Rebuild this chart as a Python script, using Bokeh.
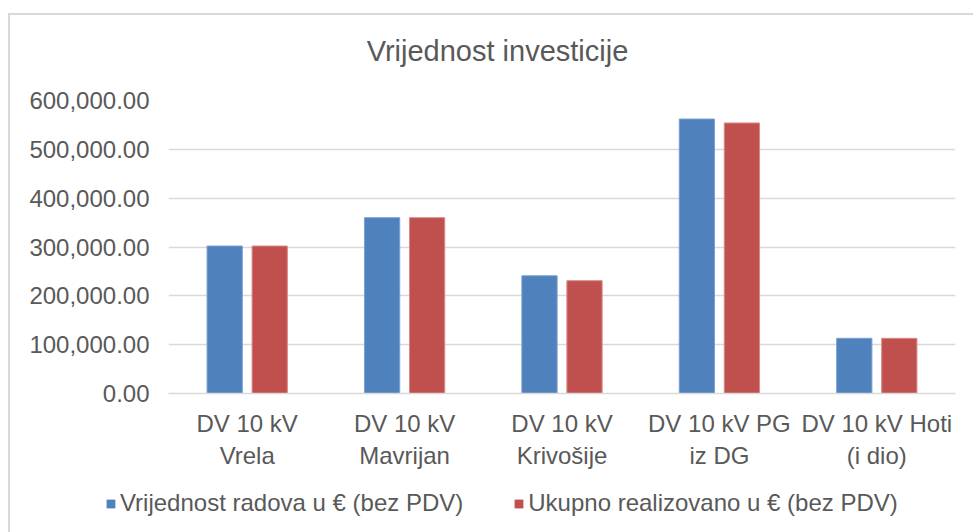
from bokeh.plotting import figure
from bokeh.layouts import column
from bokeh.models import ColumnDataSource, FactorRange, NumeralTickFormatter, Legend, LegendItem, Label
from bokeh.transform import dodge
from bokeh.embed import file_html
from bokeh.resources import INLINE

categories = ["DV 10 kV\nVrela", "DV 10 kV\nMavrijan", "DV 10 kV\nKrivošije", "DV 10 kV PG\niz DG", "DV 10 kV Hoti\n(i dio)"]
vrijednost_radova = [302000, 360000, 241000, 562000, 113000]
ukupno_realizovano = [302000, 360000, 231000, 554000, 113000]
series_names = ["Vrijednost radova u € (bez PDV)", "Ukupno realizovano u € (bez PDV)"]
y_ticks = [0, 100000, 200000, 300000, 400000, 500000, 600000]
title_text = "Vrijednost investicije"

FONT = "Liberation Sans"
TXT = "#595959"
BLUE = "#4F81BD"
RED = "#C0504D"
BLUE_EDGE = "#7a9fd0"
RED_EDGE = "#d98a88"
GRID = "#d9d9d9"
FS = "24px"
W = 963

source = ColumnDataSource(dict(cat=categories, a=vrijednost_radova, b=ukupno_realizovano))

# title strip
p0 = figure(width=W, height=70, output_backend="svg", toolbar_location=None,
            min_border=0, x_range=(0, 1), y_range=(0, 1))
p0.frame_align = False
p0.axis.visible = False
p0.grid.visible = False
p0.outline_line_color = None
p0.add_layout(Label(x=487, y=35, x_units="screen", y_units="screen", text=title_text,
                    text_font=FONT, text_font_size="29px", text_color=TXT,
                    text_align="center", text_baseline="middle"))

# main chart
p = figure(x_range=FactorRange(*categories), y_range=(0, 600000),
           width=W, height=394, output_backend="svg", toolbar_location=None,
           min_border_left=158, min_border_right=18, min_border_top=15, min_border_bottom=86)
p.frame_align = False

r1 = p.vbar(x=dodge("cat", -0.143, range=p.x_range), top="a", width=0.224, source=source,
            fill_color=BLUE, line_color=BLUE_EDGE, line_width=1)
r2 = p.vbar(x=dodge("cat", 0.143, range=p.x_range), top="b", width=0.224, source=source,
            fill_color=RED, line_color=RED_EDGE, line_width=1)

p.outline_line_color = None
p.xgrid.grid_line_color = None
p.ygrid.grid_line_color = GRID
p.ygrid.grid_line_width = 1.5
p.yaxis.ticker = y_ticks
p.yaxis.formatter = NumeralTickFormatter(format="0,0.00")
p.yaxis.axis_line_color = None
p.yaxis.major_tick_line_color = None
p.yaxis.minor_tick_line_color = None
p.yaxis.major_label_standoff = 13
p.xaxis.axis_line_color = GRID
p.xaxis.axis_line_width = 1.5
p.xaxis.major_tick_line_color = None
p.xaxis.minor_tick_line_color = None
p.xaxis.major_label_standoff = 10
for ax in (p.xaxis, p.yaxis):
    ax.major_label_text_font = FONT
    ax.major_label_text_font_size = FS
    ax.major_label_text_color = TXT

# legend strip below the chart (its zero-width bars lie outside the visible y range)
p2 = figure(width=W, height=53, output_backend="svg", toolbar_location=None,
            min_border=0, x_range=FactorRange(*categories), y_range=(-2000000, -1000000))
p2.frame_align = False
p2.axis.visible = False
p2.grid.visible = False
p2.outline_line_color = None
d1 = p2.vbar(x="cat", top="a", width=0, source=source, fill_color=BLUE, line_color=None)
d2 = p2.vbar(x="cat", top="b", width=0, source=source, fill_color=RED, line_color=None)
legend = Legend(items=[LegendItem(label=series_names[0], renderers=[d1]),
                       LegendItem(label=series_names[1], renderers=[d2])],
                location=(95, 15), orientation="horizontal",
                glyph_width=11, glyph_height=11, label_standoff=4, spacing=50,
                padding=0, margin=0, border_line_color=None, background_fill_alpha=0,
                label_text_font=FONT, label_text_font_size=FS, label_text_color=TXT)
p2.add_layout(legend, "center")

layout = column(p0, p, p2, spacing=0)
layout.styles = {"margin-left": "8px", "margin-top": "13px",
                 "border-left": "2px solid #d9d9d9", "border-top": "2px solid #d9d9d9"}

open("out.html", "w").write(file_html(layout, INLINE))
